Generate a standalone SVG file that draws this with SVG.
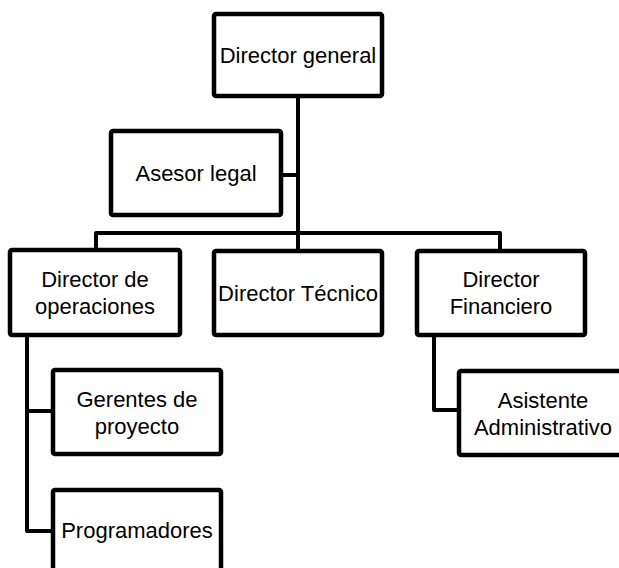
<svg xmlns="http://www.w3.org/2000/svg" width="619" height="568" viewBox="0 0 619 568">
<style>
.box{fill:#ffffff;stroke:#000000;stroke-width:4.5;stroke-linejoin:round}
.lbl{font-family:"Liberation Sans",Arial,sans-serif;font-size:22px;fill:#000000;text-anchor:middle}
.con{fill:none;stroke:#000000;stroke-width:4;stroke-linejoin:round}
</style>
<rect width="619" height="568" fill="#ffffff"/>
<g id="connectors">
<path class="con" d="M298,98 V249"/>
<path class="con" d="M283,175 H298"/>
<path class="con" d="M96,248 V233 H500 V249"/>
<path class="con" d="M27,337 V531 H51"/>
<path class="con" d="M27,411 H51"/>
<path class="con" d="M434,337 V410 H457"/>
</g>
<g id="director-general">
<rect class="box" x="214" y="14" width="168" height="82" rx="2"/>
<text class="lbl" x="298" y="63">Director general</text>
</g>
<g id="asesor-legal">
<rect class="box" x="111" y="131" width="170" height="84" rx="2"/>
<text class="lbl" x="196" y="181">Asesor legal</text>
</g>
<g id="director-operaciones">
<rect class="box" x="10" y="250" width="170" height="85" rx="2"/>
<text class="lbl" x="95" y="287">Director de</text>
<text class="lbl" x="95" y="314">operaciones</text>
</g>
<g id="director-tecnico">
<rect class="box" x="214" y="251" width="168" height="84" rx="2"/>
<text class="lbl" x="298" y="301">Director Técnico</text>
</g>
<g id="director-financiero">
<rect class="box" x="417" y="251" width="168" height="84" rx="2"/>
<text class="lbl" x="501" y="287">Director</text>
<text class="lbl" x="501" y="314">Financiero</text>
</g>
<g id="gerentes-proyecto">
<rect class="box" x="53" y="370" width="168" height="84" rx="2"/>
<text class="lbl" x="137" y="407">Gerentes de</text>
<text class="lbl" x="137" y="434">proyecto</text>
</g>
<g id="programadores">
<rect class="box" x="53" y="490" width="168" height="100" rx="2"/>
<text class="lbl" x="137" y="538">Programadores</text>
</g>
<g id="asistente-administrativo">
<rect class="box" x="459" y="371" width="168" height="84" rx="2"/>
<text class="lbl" x="543" y="408">Asistente</text>
<text class="lbl" x="543" y="435">Administrativo</text>
</g>
</svg>
